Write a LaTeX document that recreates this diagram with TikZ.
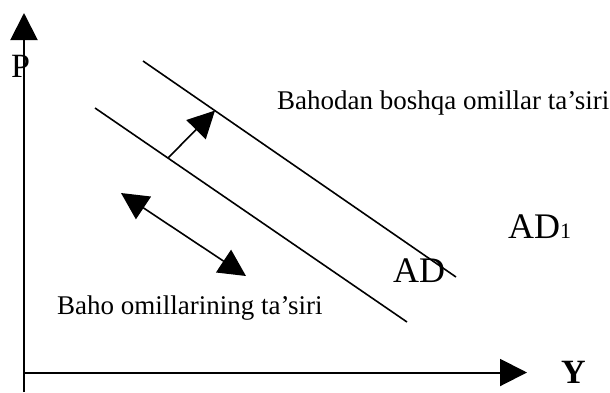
\documentclass[tikz,border=0pt]{standalone}
\usepackage{fontspec}
\setmainfont{Liberation Serif}
\usetikzlibrary{arrows.meta}
\begin{document}
\begin{tikzpicture}[x=1pt,y=-1pt,
  ln/.style={line width=1.6pt},
  tip/.style={-{Triangle[length=27pt,width=27pt]}},
  lbl/.style={inner sep=0pt,anchor=base west,font=\fontsize{27}{32}\selectfont},
  big/.style={inner sep=0pt,anchor=base west,font=\fontsize{36}{40}\selectfont}]
\useasboundingbox (0,0) rectangle (610,392);
% axes
\coordinate (o) at (24,372.5);
\coordinate (ybot) at (24,392);
\coordinate (ytop) at (24,13);
\coordinate (xend) at (527,372.5);
\draw[line width=2pt,tip] (ybot) -- (ytop);
\draw[line width=2pt,tip] (o) -- (xend);
\node[big,font=\fontsize{34}{38}\selectfont] (P) at (11,77) {P};
\node[big,font=\fontsize{34}{38}\bfseries\selectfont] (Y) at (561,383) {Y};
% demand lines
\coordinate (a1) at (143,61);
\coordinate (a2) at (456,277);
\coordinate (b1) at (95,108);
\coordinate (b2) at (407,322);
\draw[ln] (a1) -- (a2);
\draw[ln] (b1) -- (b2);
% shift arrow
\coordinate (s1) at (168,158);
\coordinate (s2) at (215,110.5);
\draw[ln,tip] (s1) -- (s2);
% movement along curve
\coordinate (m1) at (121,193);
\coordinate (m2) at (246,276);
\draw[ln,{Triangle[length=27pt,width=27pt]}-{Triangle[length=27pt,width=27pt]}] (m1) -- (m2);
% labels
\node[lbl] (t1) at (277,109) {Bahodan boshqa omillar ta’siri};
\node[lbl] (t2) at (57,314) {Baho omillarining ta’siri};
\node[big] (AD) at (393,282) {AD};
\node[big] (AD1) at (508,238) {AD\fontsize{22}{26}\selectfont 1};
\end{tikzpicture}
\end{document}
